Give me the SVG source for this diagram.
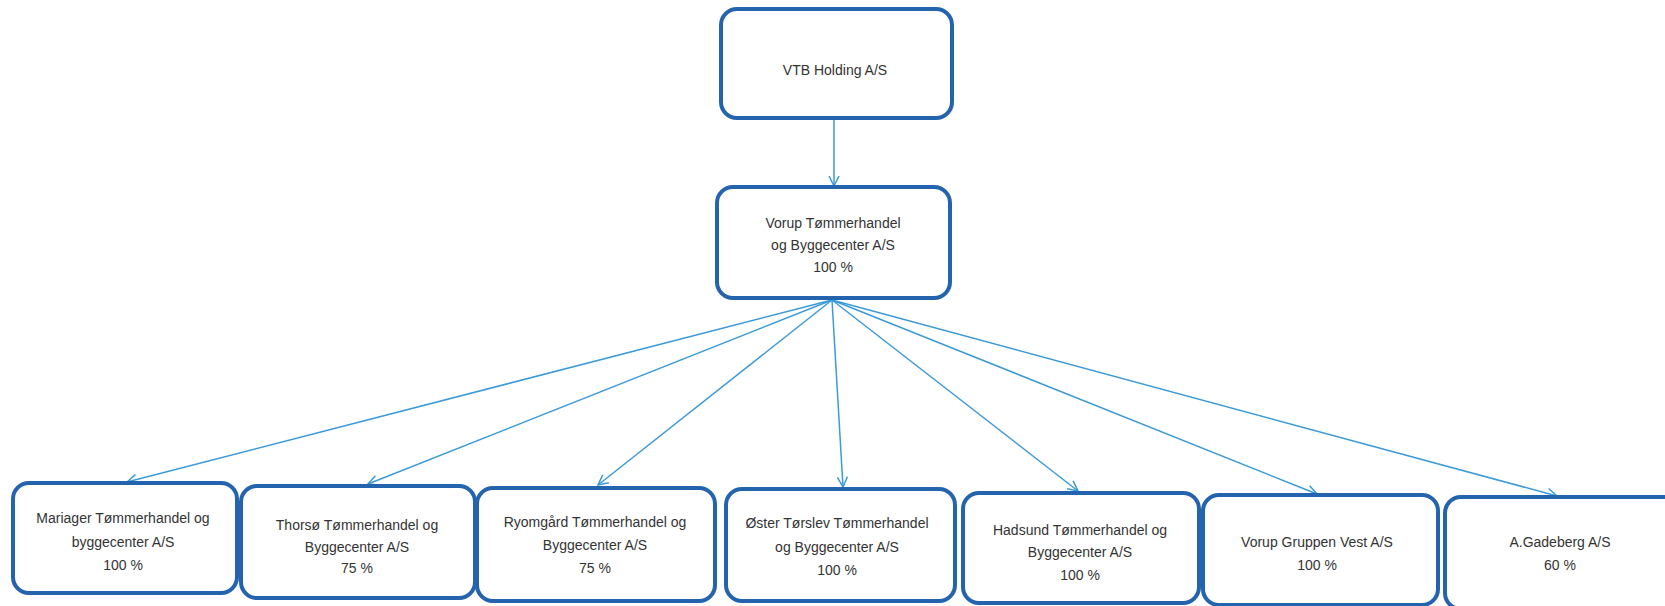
<svg xmlns="http://www.w3.org/2000/svg" width="1665" height="606" viewBox="0 0 1665 606">
<style>
.box{fill:#fff;stroke:#2463ad;stroke-width:4}
.t{font-family:"Liberation Sans",Arial,sans-serif;font-size:14px;fill:#333;text-anchor:middle}
.c{stroke:#3b9ad8;stroke-width:1.5;fill:none}
</style>
<defs>
<marker id="ah" viewBox="0 0 12 12" refX="11" refY="6" markerWidth="12" markerHeight="12" markerUnits="userSpaceOnUse" orient="auto">
<polyline points="1,1 11,6 1,11" fill="none" stroke="#3b9ad8" stroke-width="1.5"/>
</marker>
</defs>
<g id="connectors">
<line class="c" x1="834" y1="119" x2="834" y2="186" marker-end="url(#ah)"/>
<line class="c" x1="832" y1="300" x2="127" y2="482" marker-end="url(#ah)"/>
<line class="c" x1="832" y1="300" x2="368" y2="484" marker-end="url(#ah)"/>
<line class="c" x1="832" y1="300" x2="598" y2="485" marker-end="url(#ah)"/>
<line class="c" x1="832" y1="300" x2="843" y2="487" marker-end="url(#ah)"/>
<line class="c" x1="832" y1="300" x2="1078" y2="491" marker-end="url(#ah)"/>
<line class="c" x1="832" y1="300" x2="1317" y2="494" marker-end="url(#ah)"/>
<line class="c" x1="832" y1="300" x2="1557" y2="496" marker-end="url(#ah)"/>
</g>
<g id="vtb">
<rect class="box" x="721" y="9" width="231" height="109" rx="16"/>
<text class="t" x="835" y="75">VTB  Holding A/S</text>
</g>
<g id="vorup">
<rect class="box" x="717" y="187" width="233" height="111" rx="16"/>
<text class="t" x="833" y="228">Vorup Tømmerhandel</text>
<text class="t" x="833" y="250">og Byggecenter A/S</text>
<text class="t" x="833" y="272">100 %</text>
</g>
<g id="mariager">
<rect class="box" x="13" y="483" width="224" height="110" rx="16"/>
<text class="t" x="123" y="523">Mariager Tømmerhandel og</text>
<text class="t" x="123" y="547">byggecenter A/S</text>
<text class="t" x="123" y="570">100 %</text>
</g>
<g id="thorso">
<rect class="box" x="241" y="486" width="234" height="112" rx="16"/>
<text class="t" x="357" y="530">Thorsø Tømmerhandel og</text>
<text class="t" x="357" y="552">Byggecenter A/S</text>
<text class="t" x="357" y="573">75 %</text>
</g>
<g id="ryomgard">
<rect class="box" x="477" y="488" width="238" height="113" rx="16"/>
<text class="t" x="595" y="527">Ryomgård Tømmerhandel og</text>
<text class="t" x="595" y="550">Byggecenter A/S</text>
<text class="t" x="595" y="573">75 %</text>
</g>
<g id="oster">
<rect class="box" x="726" y="489" width="229" height="112" rx="16"/>
<text class="t" x="837" y="528">Øster Tørslev Tømmerhandel</text>
<text class="t" x="837" y="552">og Byggecenter A/S</text>
<text class="t" x="837" y="575">100 %</text>
</g>
<g id="hadsund">
<rect class="box" x="963" y="493" width="236" height="110" rx="16"/>
<text class="t" x="1080" y="535">Hadsund Tømmerhandel og</text>
<text class="t" x="1080" y="557">Byggecenter A/S</text>
<text class="t" x="1080" y="580">100 %</text>
</g>
<g id="gruppenvest">
<rect class="box" x="1203" y="495" width="235" height="110" rx="16"/>
<text class="t" x="1317" y="547">Vorup Gruppen Vest A/S</text>
<text class="t" x="1317" y="570">100 %</text>
</g>
<g id="gadeberg">
<rect class="box" x="1445" y="497" width="240" height="112" rx="16"/>
<text class="t" x="1560" y="547">A.Gadeberg A/S</text>
<text class="t" x="1560" y="570">60 %</text>
</g>
</svg>
